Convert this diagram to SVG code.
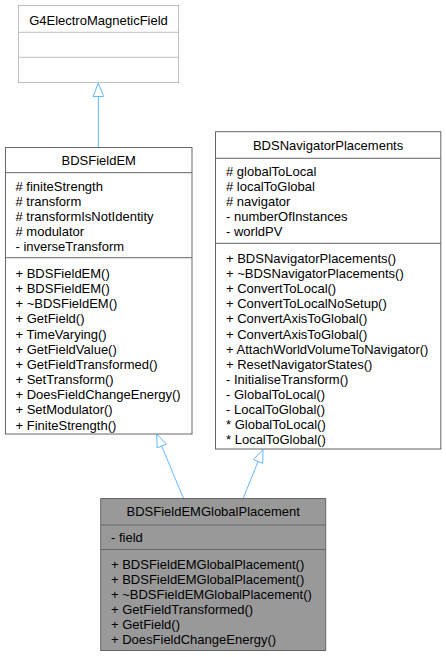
<svg xmlns="http://www.w3.org/2000/svg" width="446" height="657" viewBox="0 0 446 657">
<style>
text{font-family:"Liberation Sans",Arial,Helvetica,sans-serif;font-size:13px;fill:#000}
.t{text-anchor:middle}
.box{fill:#fff;stroke:#666666;stroke-width:1}
.ext{fill:#fff;stroke:#bfbfbf;stroke-width:1}
.ln{stroke:#666666;stroke-width:1}
.lnx{stroke:#bfbfbf;stroke-width:1}
.cur{fill:#999999;stroke:#666666;stroke-width:1}
.edge{fill:none;stroke:#63b8ff;stroke-width:1}
.head{fill:#fff;stroke:#63b8ff;stroke-width:1}
</style>
<rect width="446" height="657" fill="#fff"/>
<g id="connectors">
<path class="edge" d="M98.3,147 L98.3,96.5"/>
<polygon class="head" points="98.3,83 103.6,96.5 93,96.5"/>
<path class="edge" d="M183.3,498 L161.7,446"/>
<polygon class="head" points="156.7,434 166.3,444.1 157.1,447.9"/>
<path class="edge" d="M243.3,498 L258.1,461.5"/>
<polygon class="head" points="263,449.5 262.7,463.4 253.5,459.6"/>
</g>
<g id="G4ElectroMagneticField">
<rect class="ext" x="18.5" y="5.5" width="160" height="77"/>
<line class="lnx" x1="18.5" y1="32.3" x2="178.5" y2="32.3"/>
<line class="lnx" x1="18.5" y1="57.3" x2="178.5" y2="57.3"/>
<text class="t" x="98.5" y="24.5">G4ElectroMagneticField</text>
</g>
<g id="BDSFieldEM">
<rect class="box" x="5.5" y="147.5" width="186.5" height="286.5"/>
<line class="ln" x1="5.5" y1="172.7" x2="192" y2="172.7"/>
<line class="ln" x1="5.5" y1="257.7" x2="192" y2="257.7"/>
<text class="t" x="98.7" y="165">BDSFieldEM</text>
<text x="15.5" y="191"># finiteStrength</text>
<text x="15.5" y="206"># transform</text>
<text x="15.5" y="221"># transformIsNotIdentity</text>
<text x="15.5" y="236"># modulator</text>
<text x="15.5" y="251">- inverseTransform</text>
<text x="15.5" y="277.8">+ BDSFieldEM()</text>
<text x="15.5" y="293">+ BDSFieldEM()</text>
<text x="15.5" y="308.1">+ ~BDSFieldEM()</text>
<text x="15.5" y="323.3">+ GetField()</text>
<text x="15.5" y="338.5">+ TimeVarying()</text>
<text x="15.5" y="353.6">+ GetFieldValue()</text>
<text x="15.5" y="368.8">+ GetFieldTransformed()</text>
<text x="15.5" y="384">+ SetTransform()</text>
<text x="15.5" y="399.2">+ DoesFieldChangeEnergy()</text>
<text x="15.5" y="414.3">+ SetModulator()</text>
<text x="15.5" y="429.5">+ FiniteStrength()</text>
</g>
<g id="BDSNavigatorPlacements">
<rect class="box" x="215.5" y="131.7" width="225.3" height="317.3"/>
<line class="ln" x1="215.5" y1="158.3" x2="440.8" y2="158.3"/>
<line class="ln" x1="215.5" y1="243.3" x2="440.8" y2="243.3"/>
<text class="t" x="328.1" y="150">BDSNavigatorPlacements</text>
<text x="226" y="176"># globalToLocal</text>
<text x="226" y="191"># localToGlobal</text>
<text x="226" y="206"># navigator</text>
<text x="226" y="221">- numberOfInstances</text>
<text x="226" y="236">- worldPV</text>
<text x="226" y="263">+ BDSNavigatorPlacements()</text>
<text x="226" y="278.1">+ ~BDSNavigatorPlacements()</text>
<text x="226" y="293.2">+ ConvertToLocal()</text>
<text x="226" y="308.3">+ ConvertToLocalNoSetup()</text>
<text x="226" y="323.4">+ ConvertAxisToGlobal()</text>
<text x="226" y="338.5">+ ConvertAxisToGlobal()</text>
<text x="226" y="353.6">+ AttachWorldVolumeToNavigator()</text>
<text x="226" y="368.7">+ ResetNavigatorStates()</text>
<text x="226" y="383.8">- InitialiseTransform()</text>
<text x="226" y="398.9">- GlobalToLocal()</text>
<text x="226" y="414">- LocalToGlobal()</text>
<text x="226" y="429.1">* GlobalToLocal()</text>
<text x="226" y="444.2">* LocalToGlobal()</text>
</g>
<g id="BDSFieldEMGlobalPlacement">
<rect class="cur" x="100.7" y="498.5" width="225" height="152"/>
<line class="ln" x1="100.7" y1="525" x2="325.7" y2="525"/>
<line class="ln" x1="100.7" y1="549.5" x2="325.7" y2="549.5"/>
<text class="t" x="213.2" y="516">BDSFieldEMGlobalPlacement</text>
<text x="111" y="541.5">- field</text>
<text x="111" y="568.5">+ BDSFieldEMGlobalPlacement()</text>
<text x="111" y="583.5">+ BDSFieldEMGlobalPlacement()</text>
<text x="111" y="598.5">+ ~BDSFieldEMGlobalPlacement()</text>
<text x="111" y="613.5">+ GetFieldTransformed()</text>
<text x="111" y="628.5">+ GetField()</text>
<text x="111" y="643.5">+ DoesFieldChangeEnergy()</text>
</g>
</svg>
